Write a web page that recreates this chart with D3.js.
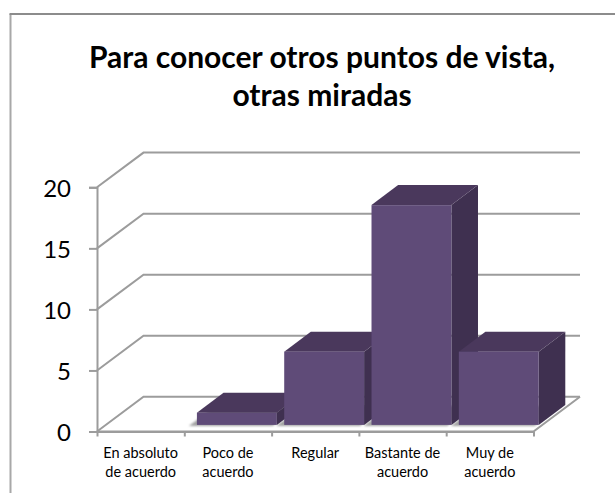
<!DOCTYPE html>
<html>
<head>
<meta charset="utf-8">
<script src="https://cdn.jsdelivr.net/npm/d3@7"></script>
<style>
  html, body { margin: 0; padding: 0; background: #fff; }
  svg { display: block; }
  text { font-family: Lato, "Open Sans", sans-serif; fill: #000; }
</style>
</head>
<body>
<div id="chart"></div>
<script>
// Data
const categories = [['En absoluto', 'de acuerdo'], ['Poco de', 'acuerdo'], ['Regular'], ['Bastante de', 'acuerdo'], ['Muy de', 'acuerdo']]
const values = [0, 1, 6, 18, 6]
const yTicks = [0, 5, 10, 15, 20]
const titleLines = ['Para conocer otros puntos de vista,', 'otras miradas']

const width = 615
const height = 493

// Chart box of the front plane
const plotLeft = 97
const plotRight = 533.5
const plotBottom = 431.5
const plotTop = 187.3

// Depth of the fake 3d: wall offset, and bar offset inside it
const wall = { dx: 46.5, dy: -34.7 }
const barFront = { dx: 8.9, dy: -6.6 }
const barDepth = { dx: 26.6, dy: -20 }

const gridColor = '#9c9c9c'

const svg = d3.select('#chart')
  .append('svg')
  .attr('width', width)
  .attr('height', height)

const defs = svg.append('defs')
defs.append('filter')
  .attr('id', 'soft')
  .attr('x', '-20%').attr('y', '-50%')
  .attr('width', '140%').attr('height', '200%')
  .append('feGaussianBlur')
  .attr('stdDeviation', 0.8)

// Outer frame, only top and left show in the picture
svg.append('path')
  .attr('d', `M10.5,${height} V14`)
  .attr('stroke', '#a8a8a8')
  .attr('stroke-width', 2)

svg.append('path')
  .attr('d', `M9.5,14 H${width}`)
  .attr('stroke', '#8c8c8c')
  .attr('stroke-width', 2)

// Title
svg.append('g')
  .selectAll('text')
  .data(titleLines)
  .enter()
  .append('text')
  .attr('x', 322)
  .attr('y', (d, i) => 68 + i * 37.5)
  .attr('text-anchor', 'middle')
  .attr('font-size', 30)
  .attr('font-weight', 700)
  .text(d => d)

// Scales
const xScale = d3.scaleBand()
  .domain(d3.range(categories.length))
  .range([plotLeft, plotRight])
  .paddingInner(0.085)
  .paddingOuter(0.0425)

const yScale = d3.scaleLinear()
  .domain([0, 20])
  .range([plotBottom, plotTop])

// Side wall and back wall gridlines
const grid = svg.append('g')
  .attr('fill', 'none')
  .attr('stroke', gridColor)
  .attr('stroke-width', 2)

grid.selectAll('path')
  .data(yTicks)
  .enter()
  .append('path')
  .attr('d', d => `M${plotLeft},${yScale(d)} L${plotLeft + wall.dx},${yScale(d) + wall.dy} H${plotRight + wall.dx}`)

// Floor, front and right edges
grid.append('path')
  .attr('d', `M${plotLeft},${plotBottom} H${plotRight} L${plotRight + wall.dx},${plotBottom + wall.dy}`)

// Shadows under the bars
const visible = values.map((v, i) => ({ v, i })).filter(d => d.v > 0)

svg.append('g')
  .selectAll('path')
  .data(visible)
  .enter()
  .append('path')
  .attr('d', d => {
    const x0 = xScale(d.i) + barFront.dx - 8
    const x1 = x0 + xScale.bandwidth() + 4
    const y0 = plotBottom + barFront.dy + 1
    return `M${x0},${y0} H${x1} l${barDepth.dx},${barDepth.dy} H${x0 + barDepth.dx} Z`
  })
  .attr('fill', '#a0a0a0')
  .attr('filter', 'url(#soft)')

// Bars, back to front so that nearer ones overlap
const bars = svg.append('g')
  .selectAll('g')
  .data(visible)
  .enter()
  .append('g')
  .attr('transform', d => `translate(${xScale(d.i) + barFront.dx},${barFront.dy})`)

bars.append('path')
  .attr('d', d => `M${xScale.bandwidth()},${yScale(d.v)} l${barDepth.dx},${barDepth.dy} V${plotBottom + barDepth.dy} l${-barDepth.dx},${-barDepth.dy} Z`)
  .attr('fill', '#3f3050')

bars.append('path')
  .attr('d', d => `M0,${yScale(d.v)} l${barDepth.dx},${barDepth.dy} H${xScale.bandwidth() + barDepth.dx} l${-barDepth.dx},${-barDepth.dy} Z`)
  .attr('fill', '#4a385c')

bars.append('rect')
  .attr('x', 0)
  .attr('y', d => yScale(d.v))
  .attr('width', xScale.bandwidth())
  .attr('height', d => plotBottom - yScale(d.v))
  .attr('fill', '#5f4b78')

// Axes
const yAxis = d3.axisLeft(yScale)
  .tickValues(yTicks)
  .tickSize(8)
  .tickPadding(18)

const yG = svg.append('g')
  .attr('class', 'axis')
  .attr('transform', `translate(${plotLeft},0)`)
  .call(yAxis)

yG.selectAll('text')
  .attr('font-size', 24)
  .attr('font-family', 'Lato, sans-serif')
  .attr('dy', '0.37em')

const xAxis = d3.axisBottom(d3.scaleLinear().domain([0, categories.length]).range([plotLeft, plotRight]))
  .ticks(categories.length)
  .tickSize(5)
  .tickFormat('')
  .tickSizeOuter(0)

svg.append('g')
  .attr('class', 'axis')
  .attr('transform', `translate(0,${plotBottom})`)
  .call(xAxis)

svg.selectAll('.axis .domain, .axis line')
  .attr('stroke', gridColor)
  .attr('stroke-width', 2)

// Category labels
const labels = svg.append('g')
  .selectAll('text')
  .data(categories)
  .enter()
  .append('text')
  .attr('text-anchor', 'middle')
  .attr('font-size', 14.5)

labels.selectAll('tspan')
  .data((d, i) => d.map(line => ({ line, i })))
  .enter()
  .append('tspan')
  .attr('x', d => xScale(d.i) + xScale.bandwidth() / 2)
  .attr('y', (d, j) => 458 + j * 19)
  .text(d => d.line)
</script>
</body>
</html>
